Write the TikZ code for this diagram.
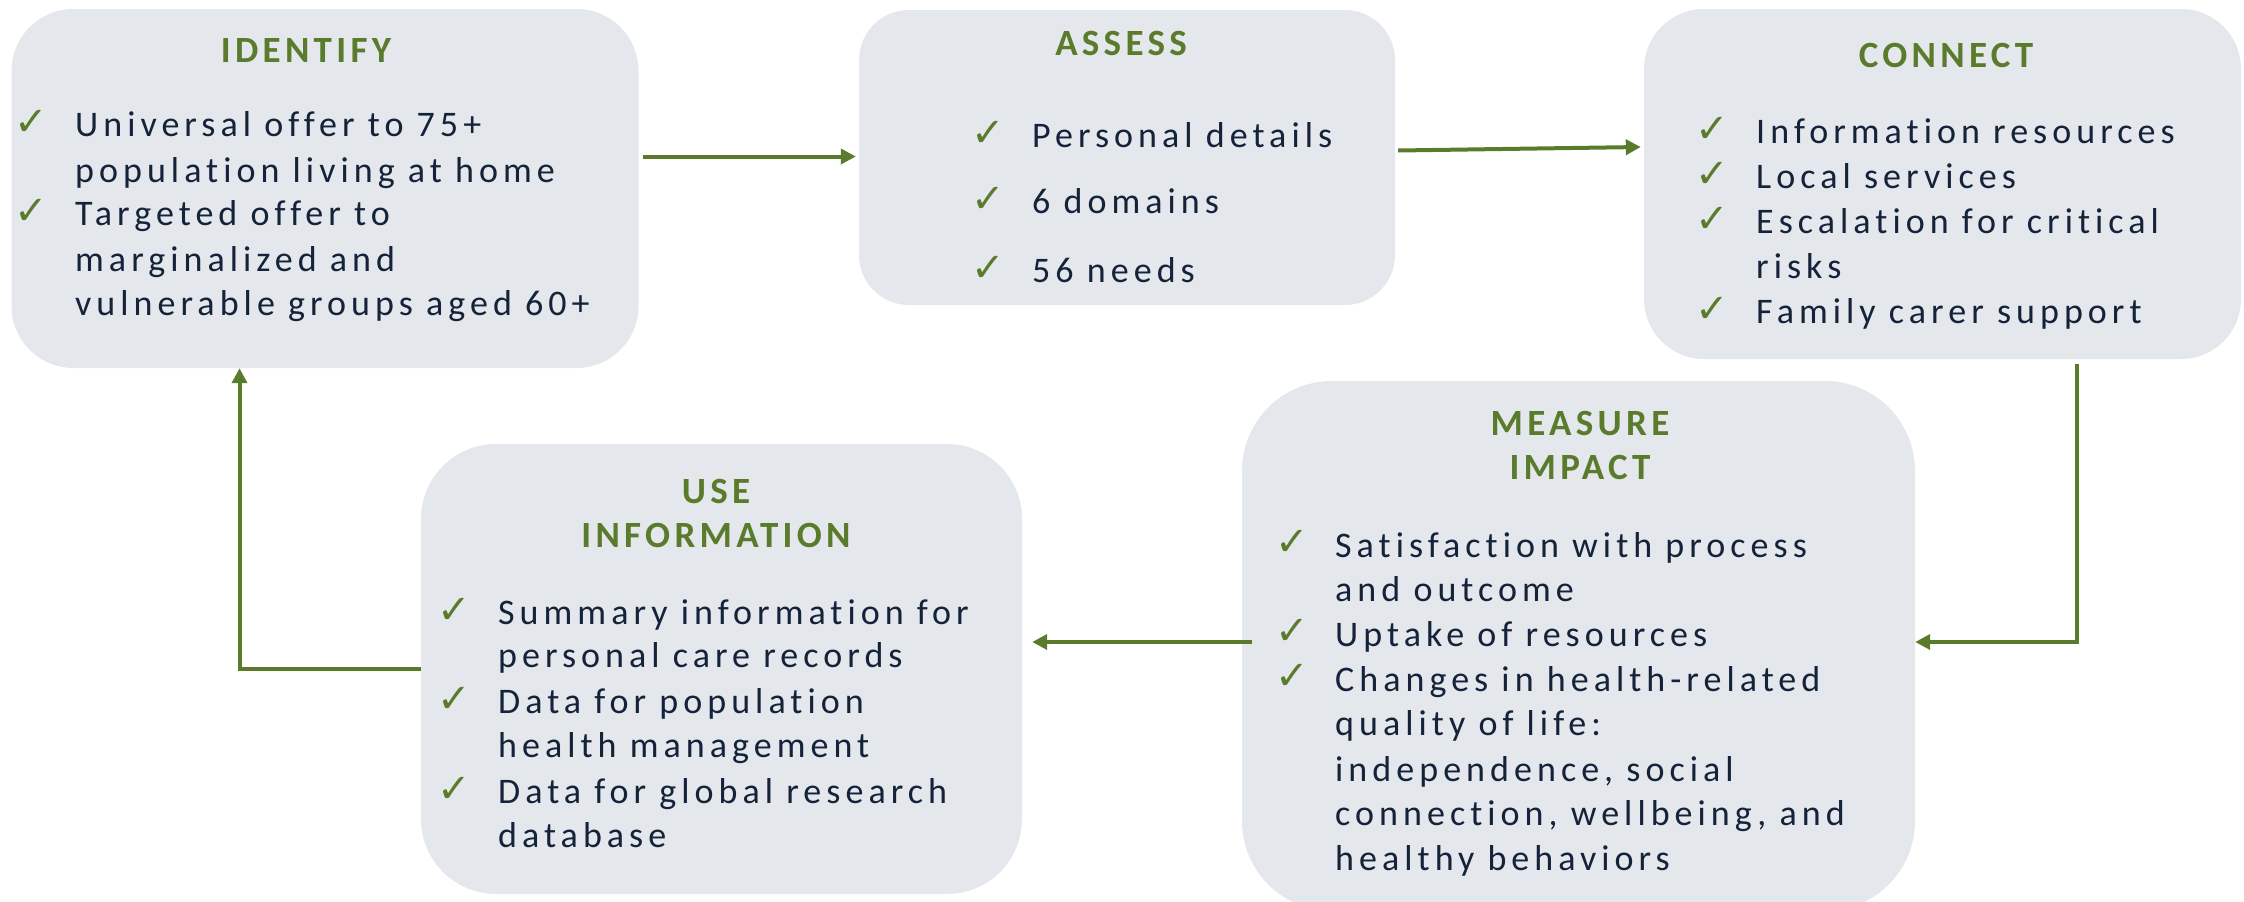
\documentclass[tikz,border=0pt]{standalone}
\usepackage{fontspec}
\usetikzlibrary{arrows.meta}
\newfontfamily\bodyf[LetterSpace=14,Ligatures=NoCommon]{Carlito}
\newfontfamily\headf[LetterSpace=11.6,Ligatures=NoCommon]{Carlito Bold}
\newfontfamily\chkf{DejaVu Sans}
\definecolor{boxfill}{HTML}{E4E7EC}
\definecolor{leaf}{HTML}{5B7B2C}
\definecolor{ink}{HTML}{14233A}
\tikzset{
  x=1pt,y=-1pt,
  panel/.style={fill=boxfill,draw=none,inner sep=0pt,anchor=center},
  linetext/.style={anchor=base west,inner sep=0pt,text=ink,font=\bodyf\fontsize{36}{43}\selectfont},
  headtext/.style={anchor=base,inner sep=0pt,text=leaf,font=\headf\fontsize{37}{44}\selectfont},
  tick/.style={anchor=base west,inner sep=0pt,text=leaf,yshift=-3pt,font=\chkf\fontsize{40}{48}\selectfont},
  flow/.style={draw=leaf,line width=4pt,-{Triangle[length=15pt,width=15pt]}}
}
\begin{document}
\begin{tikzpicture}
\useasboundingbox (0,0) rectangle (2244,902);
\clip (0,0) rectangle (2244,902);
\node[panel,minimum width=627pt,minimum height=359pt,rounded corners=62pt] (identify) at (325,188.5) {};
\node[panel,minimum width=536pt,minimum height=295pt,rounded corners=50pt] (assess) at (1127,157.5) {};
\node[panel,minimum width=597pt,minimum height=350pt,rounded corners=60pt] (connect) at (1942.5,184) {};
\node[panel,minimum width=673pt,minimum height=530pt,rounded corners=90pt] (measure) at (1578.5,646) {};
\node[panel,minimum width=601pt,minimum height=450pt,rounded corners=75pt] (use) at (721.5,669) {};

\draw[flow] ([xshift=4pt,yshift=32pt]identify.east) -- ([xshift=-3pt,yshift=1pt]assess.west);
\draw[flow] ([xshift=3pt,yshift=7pt]assess.east) -- ([xshift=-3pt,yshift=37pt]connect.west);
\draw[flow] ([xshift=134pt,yshift=-5pt]connect.south) |- ([yshift=4pt]measure.east);
\draw[flow] ([yshift=4pt,xshift=10pt]measure.west) -- ([xshift=10pt,yshift=27pt]use.east);
\draw[flow] (use.west) -| ([xshift=-85.5pt]identify.south);

\node[headtext] (h1) at (306,62) {IDENTIFY};
\node[tick] (c1a) at (14,132) {✓};
\node[linetext] (t1a) at (75,136) {Universal offer to 75+};
\node[linetext] (t1b) at (75,182) {population living at home};
\node[tick] (c1b) at (14,221) {✓};
\node[linetext] (t1c) at (75,225) {Targeted offer to};
\node[linetext] (t1d) at (75,271) {marginalized and};
\node[linetext] (t1e) at (75,315) {vulnerable groups aged 60+};

\node[headtext] (h2) at (1121,55) {ASSESS};
\node[tick] (c2a) at (971,143) {✓};
\node[linetext] (t2a) at (1032,147) {Personal details};
\node[tick] (c2b) at (971,209) {✓};
\node[linetext] (t2b) at (1032,213) {6 domains};
\node[tick] (c2c) at (971,278) {✓};
\node[linetext] (t2c) at (1032,282) {56 needs};

\node[headtext] (h3) at (1946,67) {CONNECT};
\node[tick] (c3a) at (1695,139) {✓};
\node[linetext] (t3a) at (1756,143) {Information resources};
\node[tick] (c3b) at (1695,184) {✓};
\node[linetext] (t3b) at (1756,188) {Local services};
\node[tick] (c3c) at (1695,229) {✓};
\node[linetext] (t3c) at (1756,233) {Escalation for critical};
\node[linetext] (t3d) at (1756,278) {risks};
\node[tick] (c3d) at (1695,319) {✓};
\node[linetext] (t3e) at (1756,323) {Family carer support};

\node[headtext] (h4a) at (1580,435) {MEASURE};
\node[headtext] (h4b) at (1580,479) {IMPACT};
\node[tick] (c4a) at (1275,552) {✓};
\node[linetext] (t4a) at (1335,557) {Satisfaction with process};
\node[linetext] (t4b) at (1335,601.5) {and outcome};
\node[tick] (c4b) at (1275,641) {✓};
\node[linetext] (t4c) at (1335,646) {Uptake of resources};
\node[tick] (c4c) at (1275,686) {✓};
\node[linetext] (t4d) at (1335,691) {Changes in health-related};
\node[linetext] (t4e) at (1335,735.5) {quality of life:};
\node[linetext] (t4f) at (1335,781) {independence, social};
\node[linetext] (t4g) at (1335,825.5) {connection, wellbeing, and};
\node[linetext] (t4h) at (1335,870) {healthy behaviors};

\node[headtext] (h5a) at (716,503) {USE};
\node[headtext] (h5b) at (716,547) {INFORMATION};
\node[tick] (c5a) at (437,620) {✓};
\node[linetext] (t5a) at (498,624) {Summary information for};
\node[linetext] (t5b) at (498,667) {personal care records};
\node[tick] (c5b) at (437,709) {✓};
\node[linetext] (t5c) at (498,713) {Data for population};
\node[linetext] (t5d) at (498,757) {health management};
\node[tick] (c5c) at (437,799) {✓};
\node[linetext] (t5e) at (498,803) {Data for global research};
\node[linetext] (t5f) at (498,847) {database};
\end{tikzpicture}
\end{document}
